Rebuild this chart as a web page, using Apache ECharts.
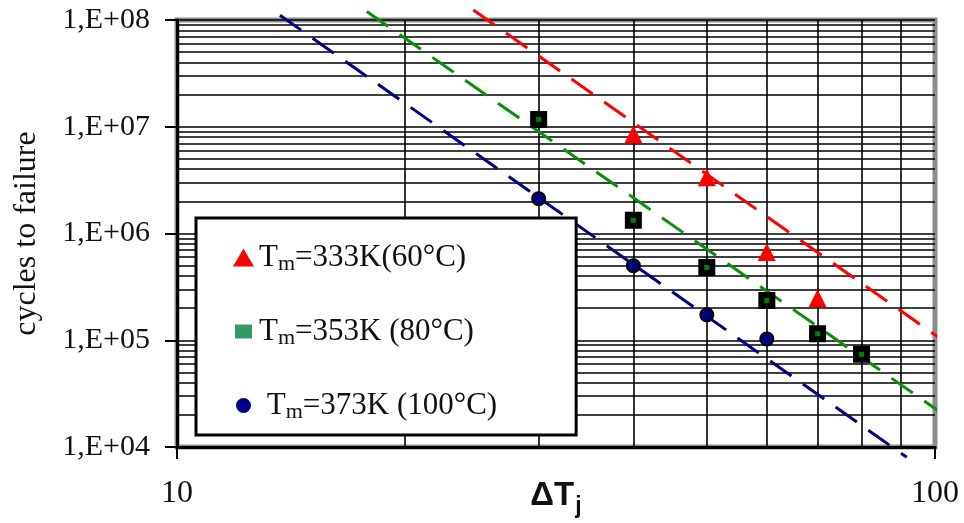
<!DOCTYPE html>
<html><head><meta charset="utf-8">
<script src="https://cdn.jsdelivr.net/npm/echarts@6/dist/echarts.min.js"></script>
<style>html,body{margin:0;padding:0;background:#fff}#c{width:964px;height:523px}</style>
</head><body><div id="c"></div>
<script>
// ---- data ----
const xTickValues = [10, 100];
const xTickLabels = ['10', '100'];
const yTickValues = [1e4, 1e5, 1e6, 1e7, 1e8];
const yTickLabels = ['1,E+04', '1,E+05', '1,E+06', '1,E+07', '1,E+08'];
const xMinorGrid = [20, 30, 40, 50, 60, 70, 80, 90];
const yMinorGrid = [2e4, 3e4, 4e4, 5e4, 6e4, 7e4, 8e4, 9e4,
                    2e5, 3e5, 4e5, 5e5, 6e5, 7e5, 8e5, 9e5,
                    2e6, 3e6, 4e6, 5e6, 6e6, 7e6, 8e6, 9e6,
                    2e7, 3e7, 4e7, 5e7, 6e7, 7e7, 8e7, 9e7];
const legendLabels = ['Tm=333K(60°C)', 'Tm=353K (80°C)', ' Tm=373K (100°C)'];

const red_dT = [40, 50, 60, 70];
const red_N = [8.5e6, 3.37e6, 6.7e5, 2.47e5];
const green_dT = [30, 40, 50, 60, 70, 80];
const green_N = [1.17e7, 1.33e6, 4.8e5, 2.36e5, 1.15e5, 7.4e4];
const blue_dT = [30, 40, 50, 60];
const blue_N = [2.12e6, 5.0e5, 1.73e5, 1.03e5];

const redFit_dT = [24.6, 103.4];
const redFit_N = [1.24e8, 9.5e4];
const greenFit_dT = [17.8, 103.1];
const greenFit_N = [1.2e8, 1.97e4];
const blueFit_dT = [13.67, 91.8];
const blueFit_N = [1.11e8, 8.0e3];

const xName = 'ΔT';
const xNameSub = 'j';
const yName = 'cycles to failure';

// ---- chart ----
const zip = (a, b) => a.map((v, i) => [v, b[i]]);
const serif = 'Liberation Serif';
const txt = '#111';

const fitLine = (name, xs, ys, color) => ({
  name, type: 'line', data: zip(xs, ys), symbol: 'none', showSymbol: false,
  clip: false, silent: true, z: 3,
  lineStyle: { color, width: 3, type: [26, 14] }
});

const chart = echarts.init(document.getElementById('c'), null, { renderer: 'canvas' });
chart.setOption({
  animation: false,
  backgroundColor: '#fff',
  grid: { left: 177, right: 29, top: 20, bottom: 76, show: true, outerBoundsMode: 'none', containLabel: false,
          borderColor: '#8c8c8c', borderWidth: 5, backgroundColor: 'transparent' },
  xAxis: {
    type: 'log', logBase: 10, min: 10, max: 100,
    axisLine: { lineStyle: { color: '#000', width: 3 } },
    axisTick: { show: true, inside: false, length: 12, lineStyle: { color: '#000', width: 2 } },
    axisLabel: { fontFamily: serif, fontSize: 32, color: txt, margin: 31,
      formatter: v => { const i = xTickValues.findIndex(t => Math.abs(t - v) / t < 1e-6); return i >= 0 ? xTickLabels[i] : ''; } },
    splitLine: { show: false },
    name: '{a|' + xName + '}{b|' + xNameSub + '}',
    nameLocation: 'middle', nameGap: 27, nameMoveOverlap: false,
    nameTextStyle: { rich: {
      a: { fontFamily: 'Liberation Sans', fontWeight: 'bold', fontSize: 33, color: txt },
      b: { fontFamily: 'Liberation Sans', fontWeight: 'bold', fontSize: 23, color: txt, padding: [21, 0, 0, 1] }
    } }
  },
  yAxis: {
    type: 'log', logBase: 10, min: 1e4, max: 1e8,
    axisLine: { show: true, lineStyle: { color: '#000', width: 3 } },
    axisTick: { show: true, inside: false, length: 12, lineStyle: { color: '#000', width: 2 } },
    axisLabel: { fontFamily: serif, fontSize: 30, color: txt, margin: 27,
      formatter: v => { const i = yTickValues.findIndex(t => Math.abs(t - v) / t < 1e-6); return i >= 0 ? yTickLabels[i] : ''; } },
    splitLine: { show: true, lineStyle: { color: '#000', width: 1.6 } },
    name: yName, nameLocation: 'middle', nameGap: 134, nameMoveOverlap: false,
    nameTextStyle: { fontFamily: serif, fontSize: 32, color: txt }
  },
  legend: {
    orient: 'vertical', left: 196, top: 218,
    padding: [24, 79, 12, 35], itemGap: 41, itemWidth: 21, itemHeight: 18,
    backgroundColor: '#fff', borderColor: '#000', borderWidth: 3, borderRadius: 0,
    selectedMode: false, z: 20,
    data: [
      { name: legendLabels[0], icon: 'triangle', itemStyle: { color: '#ff0000', borderWidth: 0 } },
      { name: legendLabels[1], icon: 'rect', itemStyle: { color: '#339966', borderColor: '#fff', borderWidth: 4 } },
      { name: legendLabels[2], icon: 'circle', itemStyle: { color: '#000080', borderColor: '#fff', borderWidth: 3 } }
    ],
    formatter: name => {
      const i = name.indexOf('Tm');
      return (i > 0 ? '{t|' + name.slice(0, i) + '}' : '') + '{t|T}{s|m}{t|' + name.slice(i + 2) + '}';
    },
    textStyle: { rich: {
      t: { fontFamily: serif, fontSize: 31, color: txt, lineHeight: 36 },
      s: { fontFamily: serif, fontSize: 22, color: txt, padding: [13, 0, 0, 0] }
    } }
  },
  series: [
    { name: 'grid', type: 'line', data: [], silent: true,
      markLine: { silent: true, z: 1, symbol: ['none', 'none'], label: { show: false },
        lineStyle: { color: '#000', width: 1.6, type: 'solid' }, emphasis: { disabled: true },
        data: xMinorGrid.map(v => ({ xAxis: v })).concat(yMinorGrid.map(v => ({ yAxis: v }))) } },
    fitLine('fit333', redFit_dT, redFit_N, '#ff0000'),
    fitLine('fit353', greenFit_dT, greenFit_N, '#0a8f0a'),
    fitLine('fit373', blueFit_dT, blueFit_N, '#000080'),
    { name: legendLabels[0], type: 'scatter', data: zip(red_dT, red_N), z: 5,
      symbol: 'triangle', symbolSize: 18, itemStyle: { color: '#ff0000', opacity: 1 } },
    { name: legendLabels[1], type: 'scatter', data: zip(green_dT, green_N), z: 5,
      symbol: 'rect', symbolSize: 11, itemStyle: { color: '#008000', borderColor: '#000', borderWidth: 6, opacity: 1 } },
    { name: legendLabels[2], type: 'scatter', data: zip(blue_dT, blue_N), z: 5,
      symbol: 'circle', symbolSize: 13, itemStyle: { color: '#000080', borderColor: '#000', borderWidth: 2, opacity: 1 } }
  ]
});
</script></body></html>
